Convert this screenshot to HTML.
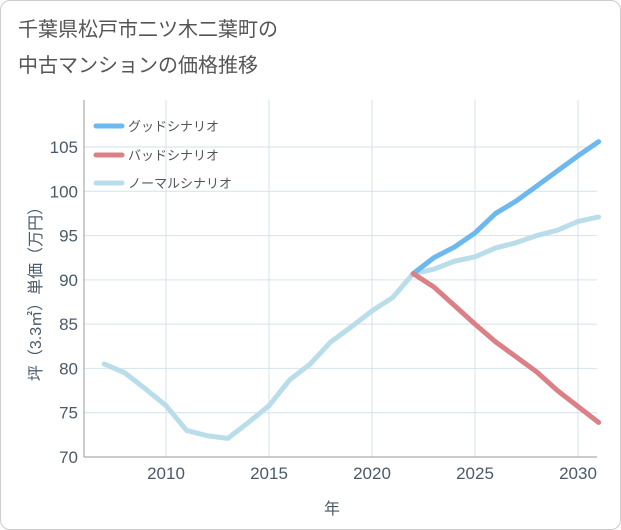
<!DOCTYPE html>
<html><head><meta charset="utf-8"><style>
body{margin:0;background:#fff;font-family:"Liberation Sans","Noto Sans CJK JP",sans-serif}
#card{position:absolute;left:0;top:0;width:619px;height:528px;border:1px solid #ccc;border-radius:10px;background:#fff;overflow:hidden}
</style></head><body>
<div id="card">
<svg id="chart" width="621" height="530" style="position:absolute;left:-1px;top:-1px"></svg>
</div>
<script>
const years=[2007,2008,2009,2010,2011,2012,2013,2014,2015,2016,2017,2018,2019,2020,2021,2022,2023,2024,2025,2026,2027,2028,2029,2030,2031];
const normal=[80.5,79.5,77.7,75.8,73,72.4,72.1,73.9,75.8,78.7,80.5,83,84.7,86.5,88,90.7,91.2,92.1,92.6,93.6,94.2,95,95.6,96.6,97.1];
const goodYears=[2022,2023,2024,2025,2026,2027,2028,2029,2030,2031];
const good=[90.7,92.5,93.7,95.3,97.5,98.9,100.6,102.3,104,105.6];
const bad=[90.7,89.2,87.1,85,83,81.3,79.6,77.5,75.7,73.9];
const yTicks=[70,75,80,85,90,95,100,105];
const xTicks=[2010,2015,2020,2025,2030];
const NS="http://www.w3.org/2000/svg";
const svg=document.getElementById('chart');
const L=84,R=597,T=100,B=457;
const x=v=>166+(v-2010)*20.6;
const y=v=>457-(v-70)*(310/35);
function mk(t,a,p){const e=document.createElementNS(NS,t);for(const k in a)e.setAttribute(k,a[k]);(p||svg).appendChild(e);return e;}
function txt(s,a){const e=mk('text',a);e.textContent=s;return e;}
let e;
e=txt('千葉県松戸市二ツ木二葉町の',{x:18,y:36,'font-size':20,fill:'#555'});

e=txt('中古マンションの価格推移',{x:18,y:72,'font-size':20,fill:'#555'});

for(const v of yTicks){
 e=mk('line',{x1:L,x2:R,y1:y(v),y2:y(v),stroke:'#d4e3ee','stroke-width':1});
 
 e=txt(v,{x:78,y:y(v)+6,'font-size':17,fill:'#4a5a6a','text-anchor':'end'});
 
}
for(const v of xTicks){
 e=mk('line',{x1:x(v),x2:x(v),y1:T,y2:B,stroke:'#d4e3ee','stroke-width':1});
 
 e=txt(v,{x:x(v),y:479,'font-size':17,fill:'#4a5a6a','text-anchor':'middle'});
 
}
e=mk('line',{x1:L,x2:L,y1:T,y2:B,stroke:'#999','stroke-width':1});

e=mk('line',{x1:L,x2:R,y1:B,y2:B,stroke:'#999','stroke-width':1});

e=txt('年',{x:332,y:514,'font-size':16,fill:'#4a5a6a','text-anchor':'middle'});

e=txt('坪（3.3㎡）単価（万円）',{x:0,y:0,'font-size':16,fill:'#4a5a6a','text-anchor':'middle',transform:'translate(41,290) rotate(-90)'});

function line(xs,vs,color,name){
 const d=xs.map((v,i)=>(i?'L':'M')+x(v)+','+y(vs[i])).join(' ');
 const p=mk('path',{d:d,fill:'none',stroke:color,'stroke-width':5,'stroke-linejoin':'round','stroke-linecap':'round'});
 
}
line(years,normal,'#b9dde9','normal-scenario-line');
line(goodYears,good,'#6cb8ef','good-scenario-line');
line(goodYears,bad,'#dc8088','bad-scenario-line');
const leg=[['グッドシナリオ','#6cb8ef',126],['バッドシナリオ','#dc8088',155],['ノーマルシナリオ','#b9dde9',183]];
for(const [s,c,yy] of leg){
 const g=mk('g',{});
 mk('line',{x1:96,x2:122,y1:yy,y2:yy,stroke:c,'stroke-width':5,'stroke-linecap':'round'},g);
 const t=mk('text',{x:128,y:yy+5,'font-size':13,fill:'#555'},g);t.textContent=s;
}
</script>
</body></html>
